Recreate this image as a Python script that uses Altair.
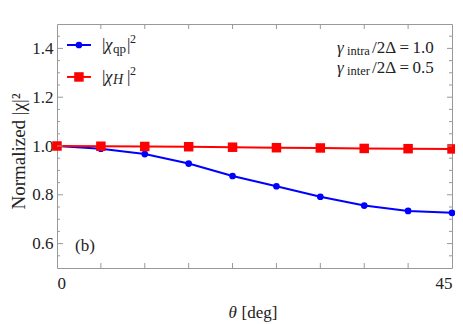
import altair as alt
import pandas as pd

theta = [0, 5, 10, 15, 20, 25, 30, 35, 40, 45]
chi_qp = [1.0, 0.989, 0.967, 0.928, 0.877, 0.835, 0.792, 0.756, 0.734, 0.726]
chi_H = [1.0, 0.999, 0.998, 0.997, 0.995, 0.993, 0.992, 0.990, 0.989, 0.988]

W, H = 395, 244
FONT = "Liberation Serif"
AXC = "#999999"
TXT = "#222222"
xs = alt.Scale(domain=[0, 45], nice=False, zero=False)
ys = alt.Scale(domain=[0.5, 1.5], nice=False, zero=False)

df = pd.DataFrame({"theta": theta, "qp": chi_qp, "H": chi_H})

base = alt.Chart(df)
xenc = alt.X("theta:Q", scale=xs, title=None,
             axis=alt.Axis(values=list(range(0, 50, 5)), ticks=False, domain=False, grid=False,
                           labelExpr="datum.value==0||datum.value==45 ? datum.label : ''",
                           labelFont=FONT, labelFontSize=17, labelColor=TXT, labelPadding=7))
yenc = alt.Y("qp:Q", scale=ys, title="Normalized |χ|²",
             axis=alt.Axis(values=[0.6, 0.8, 1.0, 1.2, 1.4], format=".1f", ticks=False,
                           domain=False, grid=False, labelFont=FONT, labelFontSize=17,
                           labelColor=TXT, labelPadding=4, titleFont=FONT, titleFontSize=19,
                           titleFontWeight="normal", titleColor=TXT, titlePadding=3, titleY=127))

blue_line = base.mark_line(color="#0000ff", strokeWidth=2).encode(x=xenc, y=yenc)
blue_pts = base.mark_point(color="#0000ff", filled=True, shape="circle", size=45, opacity=1).encode(
    x=alt.X("theta:Q", scale=xs), y=alt.Y("qp:Q", scale=ys))
red_line = base.mark_line(color="#ff0000", strokeWidth=2).encode(
    x=alt.X("theta:Q", scale=xs), y=alt.Y("H:Q", scale=ys))
red_pts = base.mark_point(color="#ff0000", filled=True, shape="square", size=90, opacity=1).encode(
    x=alt.X("theta:Q", scale=xs), y=alt.Y("H:Q", scale=ys))

# frame ticks (inward)
xt = pd.DataFrame({"t": list(range(5, 45, 5))})
yt_vals = [round(0.5 + 0.05 * i, 2) for i in range(1, 20)]
yt = pd.DataFrame({"v": yt_vals, "major": [round(v * 100) % 20 == 0 for v in yt_vals]})
tk = dict(color=AXC, strokeWidth=1)
xb = alt.Chart(xt).mark_rule(**tk).encode(x=alt.X("t:Q", scale=xs), y=alt.value(H), y2=alt.value(H - 5))
xtop = alt.Chart(xt).mark_rule(**tk).encode(x=alt.X("t:Q", scale=xs), y=alt.value(0), y2=alt.value(5))
ymaj = alt.Chart(yt).transform_filter("datum.major").mark_rule(**tk).encode(
    y=alt.Y("v:Q", scale=ys), x=alt.value(0), x2=alt.value(6))
ymin = alt.Chart(yt).transform_filter("!datum.major").mark_rule(**tk).encode(
    y=alt.Y("v:Q", scale=ys), x=alt.value(0), x2=alt.value(3))
yr_maj = alt.Chart(yt).transform_filter("datum.major").mark_rule(**tk).encode(
    y=alt.Y("v:Q", scale=ys), x=alt.value(W), x2=alt.value(W - 5))
yr_min = alt.Chart(yt).transform_filter("!datum.major").mark_rule(**tk).encode(
    y=alt.Y("v:Q", scale=ys), x=alt.value(W), x2=alt.value(W - 3))

# legend
leg = pd.DataFrame({"x1": [1.14, 1.14], "x2": [3.87, 3.87], "xm": [2.5, 2.5],
                    "y": [1.414, 1.283], "s": ["qp", "H"]})
leg_qp = leg[leg.s == "qp"]
leg_H = leg[leg.s == "H"]
lq = alt.Chart(leg_qp).mark_rule(color="#0000ff", strokeWidth=2).encode(
    x=alt.X("x1:Q", scale=xs), x2="x2:Q", y=alt.Y("y:Q", scale=ys))
lqp = alt.Chart(leg_qp).mark_point(color="#0000ff", filled=True, shape="circle", size=45, opacity=1).encode(
    x=alt.X("xm:Q", scale=xs), y=alt.Y("y:Q", scale=ys))
lh = alt.Chart(leg_H).mark_rule(color="#ff0000", strokeWidth=2).encode(
    x=alt.X("x1:Q", scale=xs), x2="x2:Q", y=alt.Y("y:Q", scale=ys))
lhp = alt.Chart(leg_H).mark_point(color="#ff0000", filled=True, shape="square", size=90, opacity=1).encode(
    x=alt.X("xm:Q", scale=xs), y=alt.Y("y:Q", scale=ys))

def txt(df_, text, dx=0, dy=0, size=17, style="normal", align="left", baseline="middle", color=TXT, y=None, font=FONT):
    enc = dict(x=alt.X("x:Q", scale=xs))
    enc["y"] = alt.Y("y:Q", scale=ys) if y is None else alt.value(y)
    return alt.Chart(df_).mark_text(text=text, dx=dx, dy=dy, fontSize=size, font=font, fontStyle=style,
                                    align=align, baseline=baseline, color=color).encode(**enc)

lt1 = pd.DataFrame({"x": [5.13], "y": [1.414]})
lt2 = pd.DataFrame({"x": [5.13], "y": [1.283]})
legtext = (txt(lt1, "|") + txt(lt1, "χ", dx=3, style="italic") + txt(lt1, "qp", dx=11, dy=4, size=13)
           + txt(lt1, "|", dx=25) + txt(lt1, "2", dx=28, dy=-6, size=12)
           + txt(lt2, "|") + txt(lt2, "χ", dx=3, style="italic") + txt(lt2, "H", dx=11, dy=3, size=14, style="italic")
           + txt(lt2, "|", dx=25) + txt(lt2, "2", dx=28, dy=-6, size=12))

g1 = pd.DataFrame({"x": [31.9], "y": [1.381]})
g2 = pd.DataFrame({"x": [31.9], "y": [1.299]})
EQ1 = "/2Δ\u2009=\u20091.0"
EQ2 = "/2Δ\u2009=\u20090.5"
gtext = (txt(g1, "γ", baseline="alphabetic", size=17, style="italic")
         + txt(g1, "intra", dx=10, dy=2, baseline="alphabetic", size=12.5)
         + txt(g1, EQ1, dx=35, baseline="alphabetic", size=17)
         + txt(g2, "γ", baseline="alphabetic", size=17, style="italic")
         + txt(g2, "inter", dx=10, dy=2, baseline="alphabetic", size=12.5)
         + txt(g2, EQ2, dx=35, baseline="alphabetic", size=17))

bt = pd.DataFrame({"x": [2.05], "y": [0.59]})
btext = txt(bt, "(b)", size=17)

xt_df = pd.DataFrame({"x": [22.5], "y": [0.5]})
xtitle = (txt(xt_df, "θ", dx=-26, align="left", size=17, style="italic", y=H + 45)
          + txt(xt_df, "[deg]", dx=-13, align="left", size=17, y=H + 45))

chart = alt.layer(
    blue_line, red_line, blue_pts, red_pts,
    xb, xtop, ymaj, ymin, yr_maj, yr_min,
    lq, lh, lqp, lhp, legtext, gtext, btext, xtitle
).properties(
    width=W, height=H, autosize=alt.AutoSizeParams(type="none"),
    padding={"left": 49, "top": 16, "right": 3, "bottom": 56},
    background="white"
).configure_view(stroke=AXC, strokeWidth=1)

chart.save("out.html", embed_options={"renderer": "svg", "actions": False})
